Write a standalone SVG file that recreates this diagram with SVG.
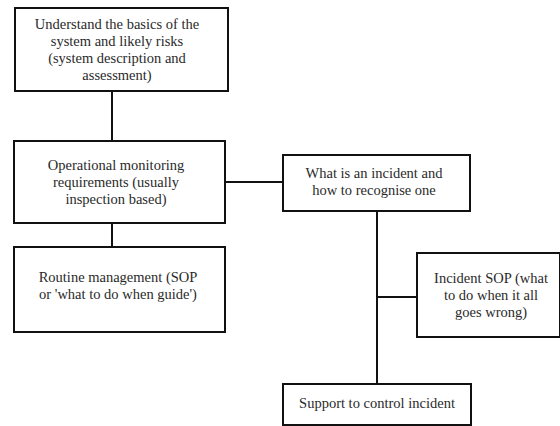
<svg xmlns="http://www.w3.org/2000/svg" width="560" height="426" viewBox="0 0 560 426">
<style>
.box{fill:#fff;stroke:#111;stroke-width:2}
.ln{stroke:#111;stroke-width:2;fill:none}
.t{font-family:'Liberation Serif','Times New Roman',Times,'DejaVu Serif',serif;font-size:14.5px;fill:#2a2a2a;text-anchor:middle}
</style>
<rect width="560" height="426" fill="#fff"/>
<g id="connectors">
<line class="ln" x1="112" y1="91" x2="112" y2="141"/>
<line class="ln" x1="112" y1="223" x2="112" y2="247"/>
<line class="ln" x1="225" y1="182" x2="283" y2="182"/>
<line class="ln" x1="377" y1="211" x2="377" y2="384"/>
<line class="ln" x1="377" y1="297" x2="417" y2="297"/>
</g>
<g id="n1" class="t">
<rect class="box" x="15" y="8" width="213" height="83"/>
<text x="117" y="29">Understand the basics of the</text>
<text x="117" y="46">system and likely risks</text>
<text x="117" y="63">(system description and</text>
<text x="117" y="80">assessment)</text>
</g>
<g id="n2" class="t">
<rect class="box" x="14" y="141" width="211" height="82"/>
<text x="116" y="170">Operational monitoring</text>
<text x="116" y="187">requirements (usually</text>
<text x="116" y="204">inspection based)</text>
</g>
<g id="n3" class="t">
<rect class="box" x="14" y="247" width="211" height="85"/>
<text x="118" y="282">Routine management (SOP</text>
<text x="118" y="299">or 'what to do when guide')</text>
</g>
<g id="n4" class="t">
<rect class="box" x="283" y="155" width="187" height="56"/>
<text x="374" y="178">What is an incident and</text>
<text x="374" y="195">how to recognise one</text>
</g>
<g id="n5" class="t">
<rect class="box" x="417" y="253" width="143" height="84"/>
<text x="491" y="283">Incident SOP (what</text>
<text x="491" y="300">to do when it all</text>
<text x="491" y="317">goes wrong)</text>
</g>
<g id="n6" class="t">
<rect class="box" x="283" y="384" width="188" height="41"/>
<text x="377" y="408">Support to control incident</text>
</g>
</svg>
